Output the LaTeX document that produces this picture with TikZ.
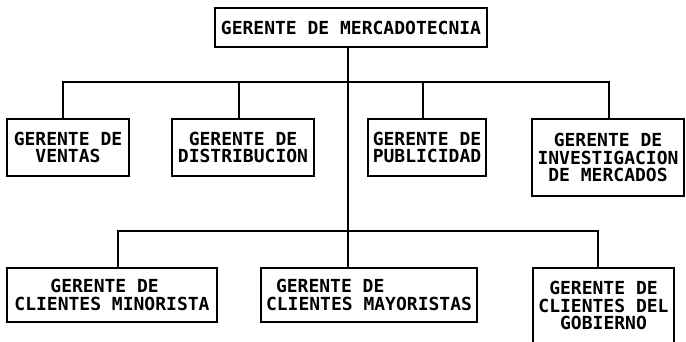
\documentclass[tikz,border=0pt]{standalone}
\usepackage{fontspec}
\setmonofont{DejaVu Sans Mono}
\usepackage{tikz}
\usetikzlibrary{positioning}

\begin{document}
\begin{tikzpicture}[x=1pt,y=-1pt,line width=1.5pt,
	box/.style={draw,inner xsep=2pt,inner ysep=0pt,align=center,
		font=\ttfamily\bfseries\fontsize{18}{17.5}\selectfont},
	]
\useasboundingbox (0,0) rectangle (686,341);

\node[box,minimum width=272pt,minimum height=39pt](mkt) at (351,27.5){GERENTE DE MERCADOTECNIA};

\node[box,minimum width=122pt,minimum height=57pt](ventas) at (68,147.5){GERENTE DE\\VENTAS};
\node[box,minimum width=142pt,minimum height=57pt](distrib) at (243,147.5){GERENTE DE\\DISTRIBUCION};
\node[box,minimum width=118pt,minimum height=57pt](public) at (427,147.5){GERENTE DE\\PUBLICIDAD};
\node[box,minimum width=152pt,minimum height=77pt](invest) at (608,157.5){GERENTE DE\\INVESTIGACION\\DE MERCADOS};

\node[box,align=left,minimum width=210pt,minimum height=54pt](minor) at (112,295){\hspace*{36pt}GERENTE DE\\CLIENTES MINORISTA};
\node[box,align=left,minimum width=216pt,minimum height=54pt](mayor) at (369,295){\hspace*{10pt}GERENTE DE\\CLIENTES MAYORISTAS};
\node[box,minimum width=141pt,minimum height=75pt](gob) at (603.5,305.5){GERENTE DE\\CLIENTES DEL\\GOBIERNO};

\coordinate (busA) at (348,82);
\coordinate (busB) at (348,231);

\draw ([xshift=-3pt]mkt.south) -- ([xshift=-21pt]mayor.north);
\draw ([xshift=-5pt]ventas.north) |- (busA) -| ([xshift=1pt]invest.north);
\draw ([xshift=-4pt]distrib.north) |- (busA);
\draw ([xshift=-4pt]public.north) |- (busA);
\draw ([xshift=6pt]minor.north) |- (busB) -| ([xshift=-5.5pt]gob.north);
\end{tikzpicture}
\end{document}
